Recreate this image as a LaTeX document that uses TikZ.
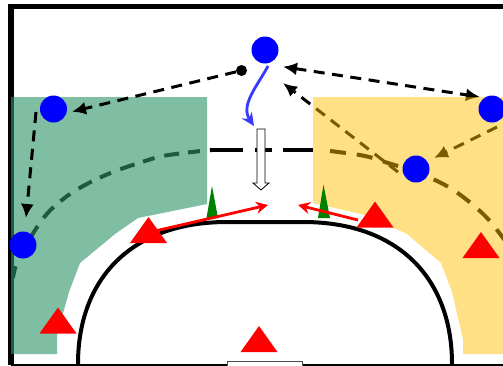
\documentclass[tikz,border=0pt]{standalone}
\usetikzlibrary{arrows.meta}
\definecolor{zoneg}{rgb}{0.19,0.59,0.42}
\definecolor{zoney}{rgb}{1,0.75,0}
\definecolor{playerb}{rgb}{0,0,1}
\definecolor{runb}{rgb}{0.22,0.22,1}
\tikzset{
  player/.style={circle,fill=playerb,minimum size=27pt,inner sep=0pt},
  ballnode/.style={circle,fill=black,minimum size=11pt,inner sep=0pt},
  pass/.style={black,line width=3pt,dash pattern=on 11pt off 7.5pt,-{Latex[length=14pt,width=13pt]}},
  passboth/.style={black,line width=3pt,dash pattern=on 11pt off 7.5pt,{Latex[length=14pt,width=13pt]}-{Latex[length=14pt,width=13pt]}},
  lane/.style={black,line width=4pt},
  shot/.style={red,line width=2.8pt,-{Stealth[length=12pt,width=12pt]}},
  run/.style={runb,line width=2.8pt,-{Stealth[length=13pt,width=12pt]}},
  defender/.style={fill=red},
  cone/.style={fill=green!50!black},
}
\newcommand{\defenderat}[2]{\fill[defender] (#1,#2) -- ++(18.5,26) -- ++(-37,0) -- cycle;}
\begin{document}
\begin{tikzpicture}[x=1pt,y=-1pt]
\useasboundingbox (0,0) rectangle (503,365);
\clip (0,0) rectangle (503,365);
\fill[white] (0,0) rectangle (503,365);
% pitch frame
\draw[black,line width=5.5pt] (11,365) -- (11,6.5) -- (510,6.5);
\draw[black,line width=4pt] (11,366) -- (510,366);
% coordinates for free ends
\coordinate (c1) at (398,172);
\coordinate (c2) at (283,83);
\coordinate (d1) at (497,127);
\coordinate (d2) at (434,158);
\coordinate (e1) at (283,66.7);
\coordinate (e2) at (480,97);
% lane line under the zones
\draw[lane,dash pattern=on 31pt off 12pt on 17pt off 11pt on 31pt off 100pt] (212,150) -- (313,150);
\draw[lane,dash pattern=on 12pt off 10pt on 15pt off 9pt] plot[smooth,tension=0.6] coordinates {(13,278) (19,258) (42,220) (62,200) (85,185) (113,172) (142,162) (163,156) (192,152) (212,150)};
\draw[lane,dash pattern=on 16pt off 11pt] plot[smooth,tension=0.6] coordinates {(330,151) (338,152) (365,156) (388,163) (416,172) (445,185) (467,200) (488,219) (506,242)};
% passes under the yellow zone
\draw[passboth] (e1) -- (e2);
\draw[pass] (c1) -- (c2);
\draw[pass] (d1) -- (d2);
% zones
\fill[zoneg,fill opacity=0.61] (11,97) -- (207,97) -- (207,204) -- (138,218) -- (115,234) -- (80,263) -- (69,292) -- (57,335) -- (57,354) -- (11,354) -- cycle;
\fill[zoney,fill opacity=0.48] (313,97) -- (503,97) -- (503,354) -- (463,354) -- (463,339) -- (452,292) -- (441,263) -- (407,234) -- (365,215) -- (313,203) -- cycle;
% penalty area and goal
\draw[black,line width=4pt] (78,366) -- (78,364) .. controls (78,280) and (130,222) .. (227,222) -- (303,222) .. controls (400,222) and (452,280) .. (452,364) -- (452,366);
\draw[black!70,line width=1.5pt,fill=white] (227.5,366) -- (227.5,361.5) -- (302.5,361.5) -- (302.5,366);
% cones
\fill[cone] (212,186) -- (218,218) -- (206.5,218) -- cycle;
\fill[cone] (323.5,184.5) -- (330,218) -- (318,218) -- cycle;
% players
\node[player] (p1) at (265,50) {};
\node[player] (p2) at (53.5,109) {};
\node[player] (p3) at (492,109) {};
\node[player] (p4) at (416,169) {};
\node[player] (p5) at (23,245) {};
\node[ballnode] (ball) at (241.5,70.5) {};
\coordinate (a1) at (72,111.7);
\coordinate (b1) at (36,112);
\coordinate (b2) at (26,218);
\coordinate (r1) at (268,66);
\coordinate (r2) at (254,126);
% passes on top
\draw[pass] (ball) -- (a1);
\draw[pass] (b1) -- (b2);
% run
\draw[run] (r1) .. controls (258,85) and (240,105) .. (r2);
% hollow arrow
\draw[black,fill=white,line width=0.8pt] (257,129) -- (265,129) -- (265,183) -- (269,183) -- (261,190) -- (253,183) -- (257,183) -- cycle;
% shots
\coordinate (s1) at (155,231);
\coordinate (s2) at (268,205);
\coordinate (t1) at (358,220);
\coordinate (t2) at (298,205);
\draw[shot] (s1) -- (s2);
\draw[shot] (t1) -- (t2);
% defenders
\defenderat{148.5}{217}
\defenderat{58}{307.5}
\defenderat{259}{326}
\defenderat{375}{201.5}
\defenderat{481}{232}
\end{tikzpicture}
\end{document}
